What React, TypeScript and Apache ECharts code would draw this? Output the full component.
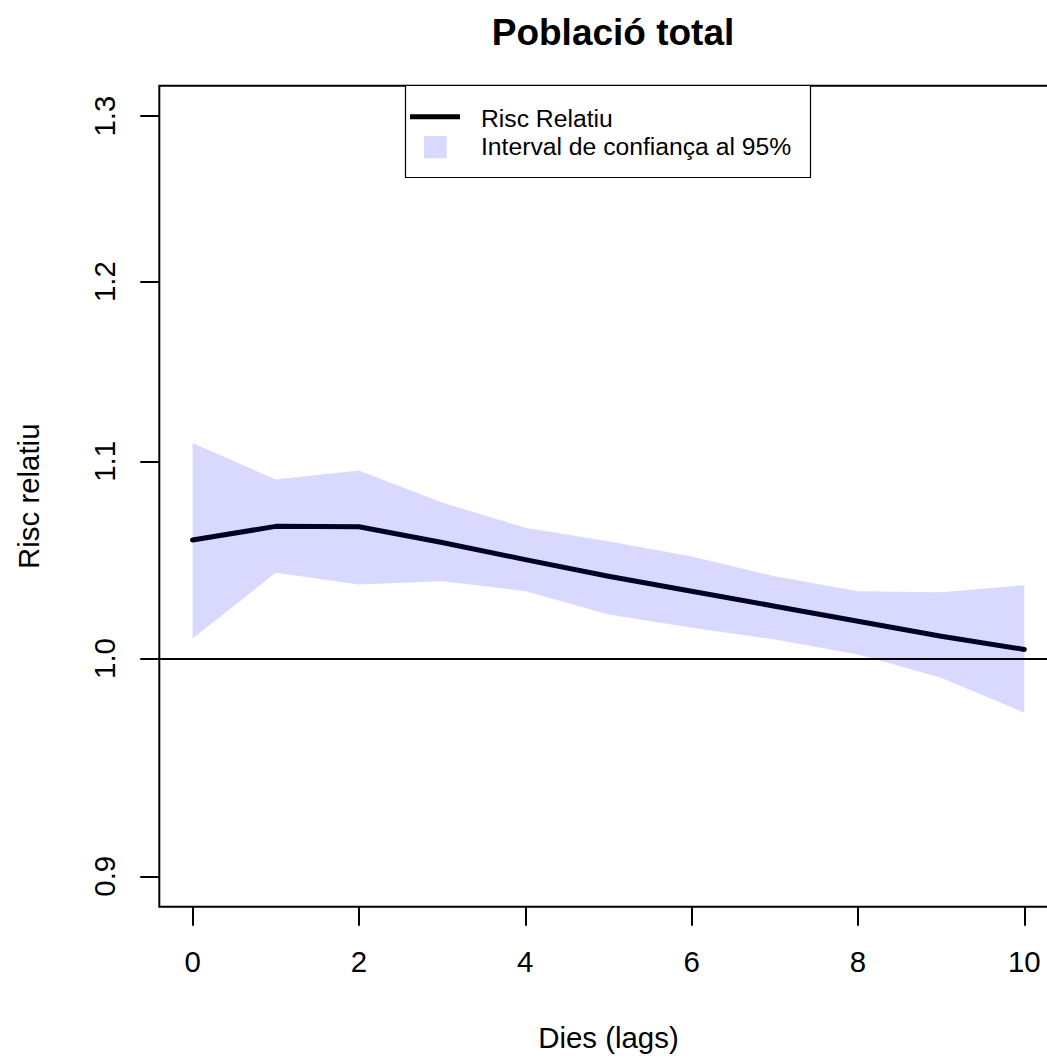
import React, { useEffect, useRef } from "react";
import * as echarts from "echarts";

const TITLE = "Població total";
const X_NAME = "Dies (lags)";
const Y_NAME = "Risc relatiu";
const LEGEND_LINE = "Risc Relatiu";
const LEGEND_BAND = "Interval de confiança al 95%";

const lags = [0, 1, 2, 3, 4, 5, 6, 7, 8, 9, 10];
const rr = [1.059, 1.066, 1.0658, 1.0577, 1.049, 1.0406, 1.0331, 1.0256, 1.0182, 1.0108, 1.0044];
const upper = [1.1099, 1.0904, 1.0952, 1.0784, 1.0653, 1.0584, 1.0506, 1.0406, 1.0331, 1.0326, 1.0361];
const lower = [1.0097, 1.0423, 1.0364, 1.0381, 1.0331, 1.0215, 1.015, 1.0092, 1.0019, 0.9907, 0.9741];
const yTicks = [0.9, 1.0, 1.1, 1.2, 1.3];
const xTicks = [0, 2, 4, 6, 8, 10];
const refValue = 1.0;

const FONT = "Liberation Sans, Arial, Helvetica, sans-serif";

export default function App() {
  const ref = useRef<HTMLDivElement>(null);
  useEffect(() => {
    if (!ref.current) return;
    const chart = echarts.init(ref.current, null, { renderer: "svg" });
    const lnLo = Math.log(yTicks[0]);
    const lnHi = Math.log(yTicks[yTicks.length - 1]);
    const pad = 0.04 * (lnHi - lnLo);
    const xPad = 0.04 * (lags[lags.length - 1] - lags[0]);

    const option: any = {
      animation: false,
      backgroundColor: "#fff",
      textStyle: { fontFamily: FONT },
      title: {
        text: TITLE,
        left: 608,
        top: 9,
        textAlign: "center",
        textStyle: { fontFamily: FONT, fontWeight: "bold", fontSize: 37, color: "#000" },
      },
      grid: {
        left: 159.3,
        right: -10.6,
        top: 85.7,
        bottom: 153.3,
        show: true,
        borderColor: "#000",
        borderWidth: 2,
        backgroundColor: "transparent",
        containLabel: false,
        outerBoundsMode: "none",
      },
      xAxis: {
        type: "value",
        min: lags[0] - xPad,
        max: lags[lags.length - 1] + xPad,
        name: X_NAME,
        nameLocation: "middle",
        nameGap: 116,
        nameTextStyle: { fontFamily: FONT, fontSize: 29.4, color: "#000" },
        axisLine: { show: false, onZero: false },
        splitLine: { show: false },
        axisTick: {
          show: true,
          length: 19,
          customValues: xTicks,
          lineStyle: { color: "#000", width: 2 },
        },
        axisLabel: {
          customValues: xTicks,
          margin: 40,
          fontFamily: FONT,
          fontSize: 29.4,
          color: "#000",
        },
      },
      yAxis: {
        type: "value",
        min: lnLo - pad,
        max: lnHi + pad,
        name: Y_NAME,
        nameLocation: "middle",
        nameGap: 116,
        nameRotate: 90,
        nameTextStyle: { fontFamily: FONT, fontSize: 29.4, color: "#000" },
        axisLine: { show: false, onZero: false },
        splitLine: { show: false },
        axisTick: {
          show: true,
          length: 19,
          customValues: yTicks.map((v) => Math.log(v)),
          lineStyle: { color: "#000", width: 2 },
        },
        axisLabel: {
          customValues: yTicks.map((v) => Math.log(v)),
          rotate: 90,
          margin: 40,
          fontFamily: FONT,
          fontSize: 29.4,
          color: "#000",
          formatter: (v: number) => Math.exp(v).toFixed(1),
        },
      },
      series: [
        {
          type: "line",
          name: LEGEND_LINE,
          data: lags.map((l, i) => [l, Math.log(rr[i])]),
          symbol: "none",
          z: 2,
          lineStyle: { color: "#000", width: 5, cap: "round", join: "round" },
          markLine: {
            silent: true,
            symbol: "none",
            label: { show: false },
            lineStyle: { color: "#000", width: 2, type: "solid" },
            data: [{ yAxis: Math.log(refValue) }],
          },
        },
        {
          type: "custom",
          name: LEGEND_BAND,
          z: 3,
          data: lags.map((l, i) => [l, Math.log(upper[i])]),
          renderItem: (params: any, api: any) => {
            if (params.dataIndex !== 0) return null;
            const pts: number[][] = [];
            for (let i = 0; i < lags.length; i++) pts.push(api.coord([lags[i], Math.log(upper[i])]));
            for (let i = lags.length - 1; i >= 0; i--) pts.push(api.coord([lags[i], Math.log(lower[i])]));
            return {
              type: "polygon",
              shape: { points: pts },
              style: { fill: "rgba(0,0,255,0.15)", stroke: "none" },
            };
          },
        },
      ],
      graphic: [
        {
          type: "group",
          z: 100,
          children: [
            {
              type: "rect",
              shape: { x: 405.5, y: 85.5, width: 405, height: 92 },
              style: { fill: "#fff", stroke: "#000", lineWidth: 1.2 },
            },
            {
              type: "line",
              shape: { x1: 410, y1: 116.7, x2: 460, y2: 116.7 },
              style: { stroke: "#000", lineWidth: 5 },
            },
            {
              type: "rect",
              shape: { x: 424, y: 136, width: 22.7, height: 22.3 },
              style: { fill: "#D9D9FF" },
            },
            {
              type: "text",
              x: 481,
              y: 118,
              style: {
                text: LEGEND_LINE,
                font: "24.7px " + FONT,
                fill: "#000",
                textAlign: "left",
                textVerticalAlign: "middle",
              },
            },
            {
              type: "text",
              x: 481,
              y: 146,
              style: {
                text: LEGEND_BAND,
                font: "24.7px " + FONT,
                fill: "#000",
                textAlign: "left",
                textVerticalAlign: "middle",
              },
            },
          ],
        },
      ],
    };
    chart.setOption(option);
    return () => chart.dispose();
  }, []);
  return (
    <div
      ref={ref}
      style={{ position: "absolute", left: 0, top: 0, width: 1047, height: 1060, background: "#fff" }}
    />
  );
}
